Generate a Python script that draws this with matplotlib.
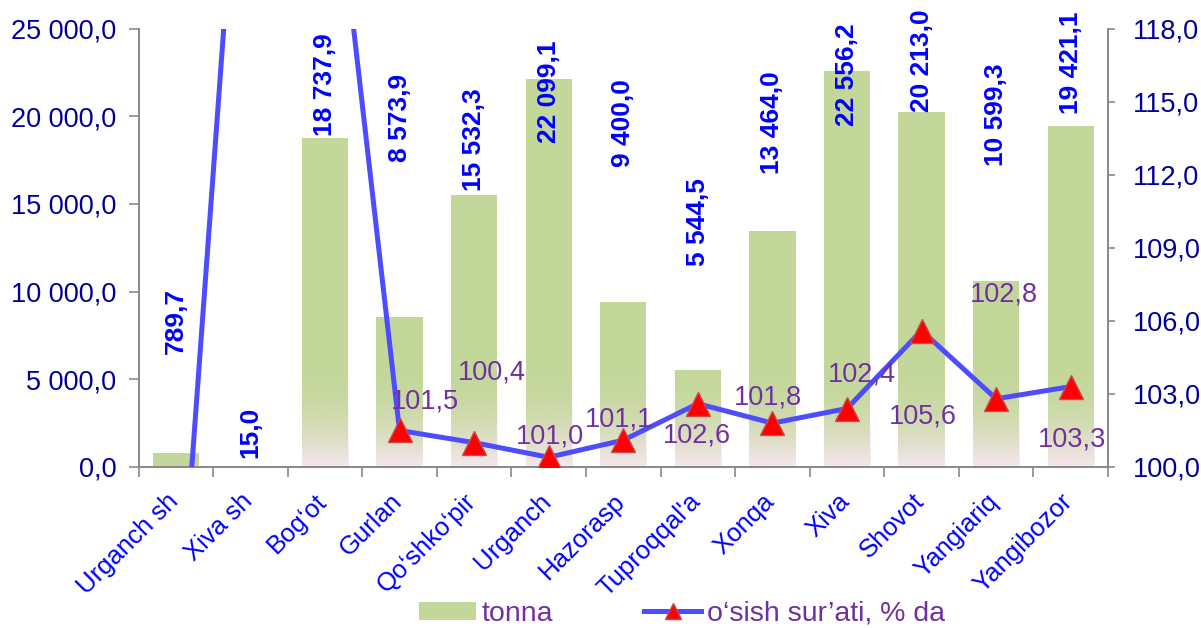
import numpy as np
import matplotlib
matplotlib.use("Agg")
import matplotlib.pyplot as plt
from matplotlib.patches import Patch
from matplotlib.lines import Line2D
from matplotlib.ticker import FuncFormatter
import matplotlib.transforms as mtransforms

plt.rcParams['font.family'] = ['Liberation Sans', 'DejaVu Sans']

# donnees
tumanlar = ["Urganch sh", "Xiva sh", "Bog\u2018ot", "Gurlan", "Qo\u2018shko\u2018pir", "Urganch",
            "Hazorasp", "Tuproqqal'a", "Xonqa", "Xiva", "Shovot", "Yangiariq", "Yangibozor"]
tonna = [789.7, 15.0, 18737.9, 8573.9, 15532.3, 22099.1, 9400.0,
         5544.5, 13464.0, 22556.2, 20213.0, 10599.3, 19421.1]
osish = [91.0, 133.0, 128.3, 101.5, 101.0, 100.4, 101.1,
         102.6, 101.8, 102.4, 105.6, 102.8, 103.3]
# textes des etiquettes de la courbe (tels que dans l'image)
osish_txt = ["", "", "", "101,5", "100,4", "101,0", "101,1",
             "102,6", "101,8", "102,4", "105,6", "102,8", "103,3"]

# positions des etiquettes (style)
tonna_lab_y = [6465, 515, 18878, 17391, 15732, 18478, 17105,
               11442, 16705, 19451, 20252, 17162, 20137]
osish_off = [(0, 0), (0, 0), (0, 0), (25, 29), (18, 70), (1, 21), (-4, 21),
             (-1, -32), (-4, 26), (15, 34), (1, -86), (8, 104), (1, -53)]

green = np.array([196, 215, 155]) / 255
pink = np.array([248, 231, 241]) / 255
blue = '#0000ff'
navy = '#000099'
purple = '#7030a0'
linec = '#4d4dff'
gris = '#898989'
fs = 19.5

def fmt_num(v):
    s = f"{v:,.1f}"
    return s.replace(",", " ").replace(".", ",")

fig = plt.figure(figsize=(12.01, 6.28), dpi=100)
ax = fig.add_axes([138.5 / 1201, 1 - 467 / 628, (1108 - 138.5) / 1201, (467 - 28.5) / 628])
ax2 = ax.twinx()

x = np.arange(len(tumanlar))
w = 0.62
ax.bar(x, tonna, width=w, color=green, zorder=2)

# degrade en bas des barres : voile rose transparent vers le haut
fade_top = 5500
t = np.linspace(0, 1, 256)
alpha = (1 - t) ** 2
img = np.zeros((256, 1, 4))
img[:, 0, :3] = pink
img[:, 0, 3] = alpha
for i, h in enumerate(tonna):
    if h > fade_top:
        ax.imshow(img, origin='lower', aspect='auto', zorder=2.5,
                  extent=(i - w / 2, i + w / 2, 0, fade_top), interpolation='bilinear')

# etiquettes des barres
for i, v in enumerate(tonna):
    ax.text(i, tonna_lab_y[i], fmt_num(v), rotation=90, ha='center', va='bottom',
            color=blue, fontweight='bold', fontsize=19, zorder=3)

ax.set_xlim(-0.5, len(tumanlar) - 0.5)
ax.set_ylim(0, 25000)
ax.set_yticks(np.arange(0, 25001, 5000))
ax.yaxis.set_major_formatter(FuncFormatter(lambda v, p: fmt_num(v)))
ax.tick_params(axis='y', colors=gris, labelcolor=navy, labelsize=fs, length=7, width=1.2, pad=9)

ax.set_xticks(x)
ax.set_xticklabels(tumanlar, rotation=45, ha='right', va='top', color=blue, fontsize=18.5)
ax.set_xticks(np.arange(-0.5, len(tumanlar)), minor=True)
ax.tick_params(axis='x', which='major', length=0, pad=16)
ax.tick_params(axis='x', which='minor', length=7, width=1.2, colors=gris)
off = mtransforms.ScaledTranslation(7 / 100, 0, fig.dpi_scale_trans)
for lab in ax.get_xticklabels():
    lab.set_transform(lab.get_transform() + off)

# courbe de croissance
ax2.plot(x, osish, color=linec, lw=3.6, marker='^', ms=17, mfc='#ff0000',
         mec='#c0504d', mew=1, zorder=4)
for i, v in enumerate(osish):
    if osish_txt[i]:
        dx, dy = osish_off[i]
        ax2.annotate(osish_txt[i], (i, v), xytext=(dx * 0.72, dy * 0.72),
                     textcoords='offset points', ha='center', va='center',
                     color=purple, fontsize=fs, zorder=5)
ax2.set_ylim(100, 118)
ax2.set_yticks(np.arange(100, 118.1, 3))
ax2.yaxis.set_major_formatter(FuncFormatter(lambda v, p: f"{v:.1f}".replace(".", ",")))
ax2.tick_params(axis='y', colors=gris, labelcolor=navy, labelsize=fs, length=5, width=1.2, pad=13)

for a in (ax, ax2):
    a.spines['top'].set_visible(False)
    for s in ('left', 'right', 'bottom'):
        a.spines[s].set_color(gris)
        a.spines[s].set_linewidth(1.3)
ax.set_facecolor('none')

handles = [Patch(facecolor=green, edgecolor='none'),
           Line2D([], [], color=linec, lw=3.6, marker='^', ms=12, mfc='#ff0000', mec='#c0504d')]
fig.legend(handles, ["tonna", "o\u2018sish sur\u2019ati, % da"], loc='center',
           bbox_to_anchor=(682 / 1201, 1 - 614 / 628), ncol=2, frameon=False,
           fontsize=20.5, labelcolor=purple, handlelength=2.0, handletextpad=0.2,
           columnspacing=3.2, handleheight=0.6)

fig.savefig("out.png", dpi=100)
